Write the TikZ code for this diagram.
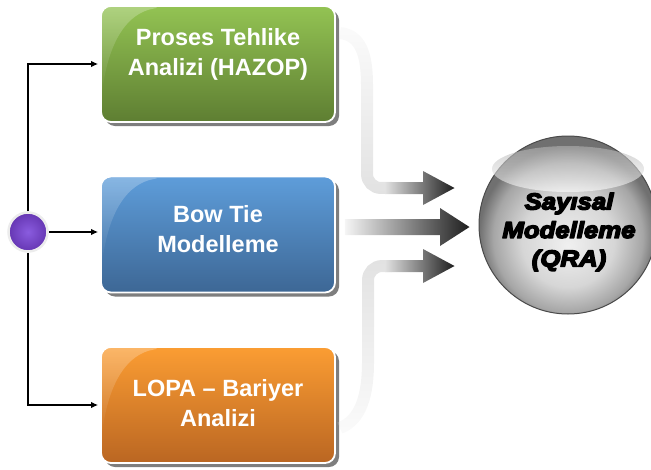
\documentclass[tikz,border=0pt]{standalone}
\usepackage{fontspec}
\setmainfont{Liberation Sans}
\newfontfamily\sphfont{Liberation Sans}[BoldItalicFeatures={FakeStretch=1.12}]
\newcommand\heavyon{\special{pdf:literal direct 2 Tr 1.5 w 1 j}}
\newcommand\heavyoff{\special{pdf:literal direct 0 Tr 0 j}}
\usetikzlibrary{arrows.meta,calc,shadows,fadings}
\definecolor{gtop}{HTML}{93C353}
\definecolor{gbot}{HTML}{5E7E32}
\definecolor{btop}{HTML}{5E9DDA}
\definecolor{bbot}{HTML}{3D6795}
\definecolor{otop}{HTML}{FB9D33}
\definecolor{obot}{HTML}{BA6622}
\definecolor{pin}{HTML}{8A5CDF}
\definecolor{pout}{HTML}{6536B2}
\definecolor{shd}{HTML}{7E7E7E}
\definecolor{arlight}{HTML}{E2E2E2}
\definecolor{armid}{HTML}{8E8E8E}
\definecolor{ardark}{HTML}{1E1E1E}
\definecolor{sphA}{HTML}{F0F0F0}
\definecolor{sphB}{HTML}{D6D6D6}
\definecolor{sphC}{HTML}{A6A6A6}
\definecolor{sphD}{HTML}{707070}
\definecolor{sphrim}{HTML}{4A4A4A}
\pgfdeclareradialshading{sphsh}{\pgfpoint{0bp}{-6bp}}{color(0bp)=(sphA); color(13bp)=(sphB); color(21bp)=(sphC); color(25bp)=(sphD); color(50bp)=(sphD)}
\tikzfading[name=fadeup, top color=transparent!85, middle color=transparent!15, bottom color=transparent!0]
\tikzfading[name=fadedown, top color=transparent!0, middle color=transparent!15, bottom color=transparent!85]
\tikzfading[name=glossfade, top color=transparent!35, bottom color=transparent!100]
\begin{document}
\begin{tikzpicture}[x=1pt,y=-1pt,
  boxst/.style={rounded corners=10pt, minimum width=234pt, minimum height=116pt, inner sep=0pt,
    draw=white, line width=1.8pt,
    drop shadow={shadow xshift=4pt, shadow yshift=-4pt, fill=shd, opacity=1}},
  btext/.style={text=white, font=\bfseries\fontsize{23.5}{30}\selectfont, align=center, inner sep=0pt},
  conn/.style={line width=1.3pt, -{Latex[length=7pt,width=6.5pt]}, shorten >=2pt},
  gloss/.style={fill=white, fill opacity=.4, path fading=glossfade},
  bigshaft/.style={line width=12pt, draw=arlight},
]
\useasboundingbox (0,0) rectangle (651,469);
% boxes
\node[boxst, top color=gtop, bottom color=gbot] (g) at (218,64) {};
\node[boxst, top color=btop, bottom color=bbot] (b) at (218,234.5) {};
\node[boxst, top color=otop, bottom color=obot] (o) at (218,405) {};
% gloss
\foreach \n in {g,b,o}{
  \path[gloss] ($(\n.north west)+(2,88)$) [rounded corners=9pt] -- ($(\n.north west)+(2,2)$) -- ($(\n.north west)+(62,2)$) [sharp corners] .. controls ($(\n.north west)+(28,8)$) and ($(\n.north west)+(8,35)$) .. ($(\n.north west)+(2,88)$) -- cycle;
}
% texts
\node[btext] (gt) at (218,54) {Proses Tehlike\\Analizi (HAZOP)};
\node[btext] (bt) at (218,229.5) {Bow Tie\\Modelleme};
\node[btext] (ot) at (218,403.5) {LOPA – Bariyer\\Analizi};
% start circle and connectors
\node[circle, minimum size=39pt, inner sep=0pt, draw=gray!15, line width=2.5pt, shade, inner color=pin, outer color=pout] (c) at (28,232) {};
\draw[conn] (c.north) |- (g.west);
\draw[conn] (c.east) -- (c.east -| b.west);
\draw[conn] (c.south) |- (o.west);
% sphere
\node[circle, minimum size=178pt, inner sep=0pt, draw=sphrim, line width=1pt, shade, shading=sphsh] (sph) at (568,225) {};
\shade[top color=gray!60, bottom color=white, opacity=.6] (568,169) ellipse [x radius=76pt, y radius=23pt];
\node[font=\sphfont\bfseries\itshape\fontsize{23}{28.5}\selectfont, text=black, align=center, inner sep=0pt] (st) at (569,232) {\heavyon Sayısal\heavyoff\\\heavyon Modelleme\heavyoff\\\heavyon (QRA)\heavyoff};
% big arrows
\coordinate (a1s) at ($(g.east)+(4,-31)$);
\coordinate (a1t) at ($(sph.west)+(-24,-37)$);
\coordinate (a2s) at ($(b.east)+(9,-15.5)$);
\coordinate (a2t) at ($(sph.west)+(-9,2)$);
\coordinate (a3s) at ($(o.east)+(4,23)$);
\coordinate (a3t) at ($(sph.west)+(-24,41)$);
% top
\draw[bigshaft, path fading=fadeup] (a1s) .. controls ($(a1s)+(21,2)$) and (367,55) .. (367,85) [rounded corners=14pt] -- (367,188) -- (392,188);
\shade[left color=arlight, middle color=armid, right color=ardark] (385,182) -- (423,182) -- (423,171) -- (a1t) -- (423,205) -- (423,194) -- (385,194) -- cycle;
% middle
\shade[left color=white!96!black, middle color=white!72!black, right color=ardark] (a2s) -- (440,219) -- (440,208) -- (a2t) -- (440,246) -- (440,235) -- ($(a2s)+(0,16)$) -- cycle;
% bottom
\draw[bigshaft, path fading=fadedown] (a3s) .. controls ($(a3s)+(21,-8)$) and (368,395) .. (368,362) [rounded corners=14pt] -- (368,266) -- (392,266);
\shade[left color=arlight, middle color=armid, right color=ardark] (385,260) -- (423,260) -- (423,249) -- (a3t) -- (423,283) -- (423,272) -- (385,272) -- cycle;
\end{tikzpicture}
\end{document}
